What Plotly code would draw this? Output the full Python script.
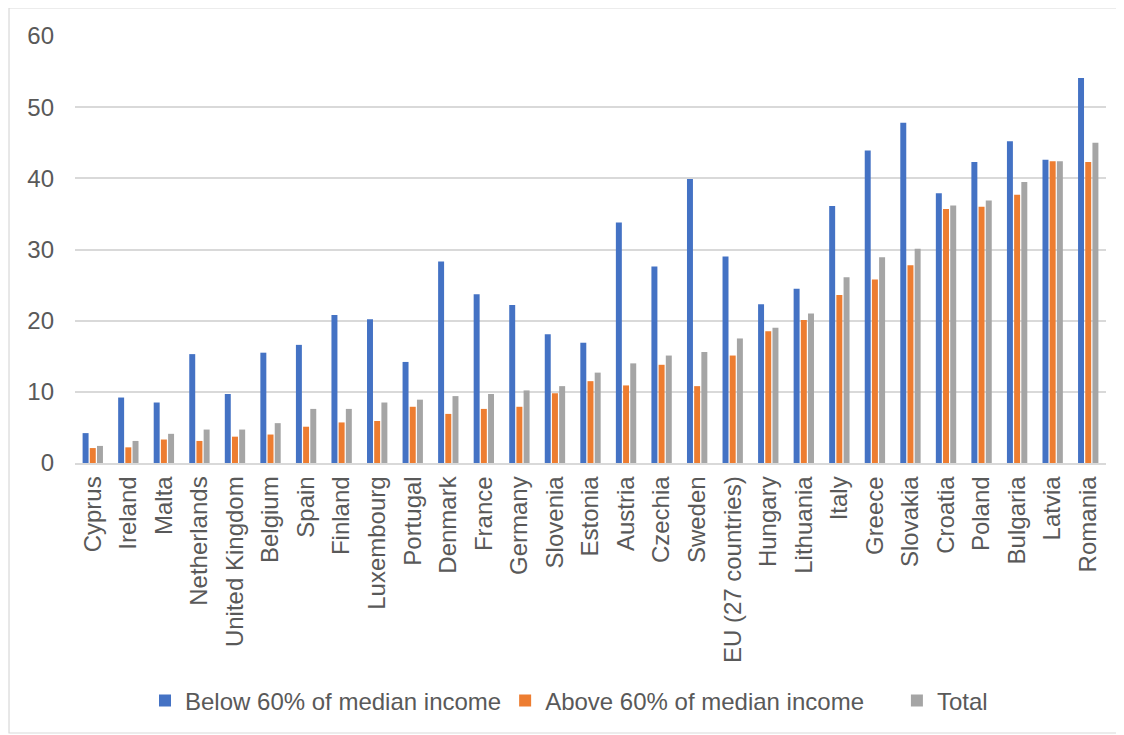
import plotly.graph_objects as go

countries = ["Cyprus", "Ireland", "Malta", "Netherlands", "United Kingdom", "Belgium", "Spain",
             "Finland", "Luxembourg", "Portugal", "Denmark", "France", "Germany", "Slovenia",
             "Estonia", "Austria", "Czechia", "Sweden", "EU (27 countries)", "Hungary",
             "Lithuania", "Italy", "Greece", "Slovakia", "Croatia", "Poland", "Bulgaria",
             "Latvia", "Romania"]

below_60 = [4.2, 9.2, 8.5, 15.3, 9.7, 15.5, 16.6, 20.8, 20.2, 14.2, 28.3, 23.7, 22.2, 18.1,
            16.9, 33.8, 27.6, 39.9, 29.0, 22.3, 24.5, 36.1, 43.9, 47.8, 37.9, 42.3, 45.2,
            42.6, 54.1]
above_60 = [2.1, 2.2, 3.3, 3.1, 3.7, 4.0, 5.1, 5.7, 5.9, 7.9, 6.9, 7.6, 7.9, 9.8,
            11.5, 10.9, 13.8, 10.8, 15.1, 18.5, 20.1, 23.6, 25.8, 27.8, 35.7, 36.0, 37.7,
            42.4, 42.3]
total = [2.4, 3.1, 4.1, 4.7, 4.7, 5.6, 7.6, 7.6, 8.5, 8.9, 9.4, 9.7, 10.2, 10.8,
         12.7, 14.0, 15.1, 15.6, 17.5, 19.0, 21.0, 26.1, 28.9, 30.1, 36.2, 36.9, 39.5,
         42.4, 45.0]

series_names = ["Below 60% of median income", "Above 60% of median income", "Total"]
colors = ["#4472C4", "#ED7D31", "#A5A5A5"]
legend_ids = ["legend", "legend2", "legend3"]
legend_x = [0.0679, 0.4172, 0.7972]

FONT = "Liberation Sans, Arial, sans-serif"
TXT = "#595959"

fig = go.Figure()
for name, vals, col, lid in zip(series_names, [below_60, above_60, total], colors, legend_ids):
    fig.add_trace(go.Bar(x=countries, y=vals, name=name, marker_color=col,
                         marker_line_width=0, legend=lid))

legend_common = dict(orientation="h", xanchor="left", y=-0.557, yanchor="middle",
                     font=dict(family=FONT, size=24, color=TXT), itemwidth=30,
                     bgcolor="rgba(0,0,0,0)")

fig.update_layout(
    width=1124, height=735,
    margin=dict(l=67, r=26, t=28, b=280),
    paper_bgcolor="white", plot_bgcolor="white",
    barmode="group", bargap=0.393, bargroupgap=0.17,
    font=dict(family=FONT, size=24, color=TXT),
    showlegend=True,
    legend=dict(x=legend_x[0], **legend_common),
    legend2=dict(x=legend_x[1], **legend_common),
    legend3=dict(x=legend_x[2], **legend_common),
    xaxis=dict(tickangle=-90, showgrid=False, showline=True, linecolor="#D9D9D9",
               linewidth=1.5, ticks="", ticklabelstandoff=2,
               tickfont=dict(family=FONT, size=24, color=TXT)),
    yaxis=dict(range=[0, 60], dtick=10, showgrid=True, gridcolor="#D9D9D9", gridwidth=1.5,
               zeroline=False, showline=False, ticks="", ticklabelstandoff=20,
               tickfont=dict(family=FONT, size=24, color=TXT)),
    shapes=[dict(type="rect", xref="paper", yref="paper",
                 x0=-0.064, x1=1.0136, y0=-0.6323, y1=1.0656,
                 line=dict(color="#D9D9D9", width=1.2), fillcolor="rgba(0,0,0,0)",
                 layer="below")],
)

fig.write_html("out.html")
